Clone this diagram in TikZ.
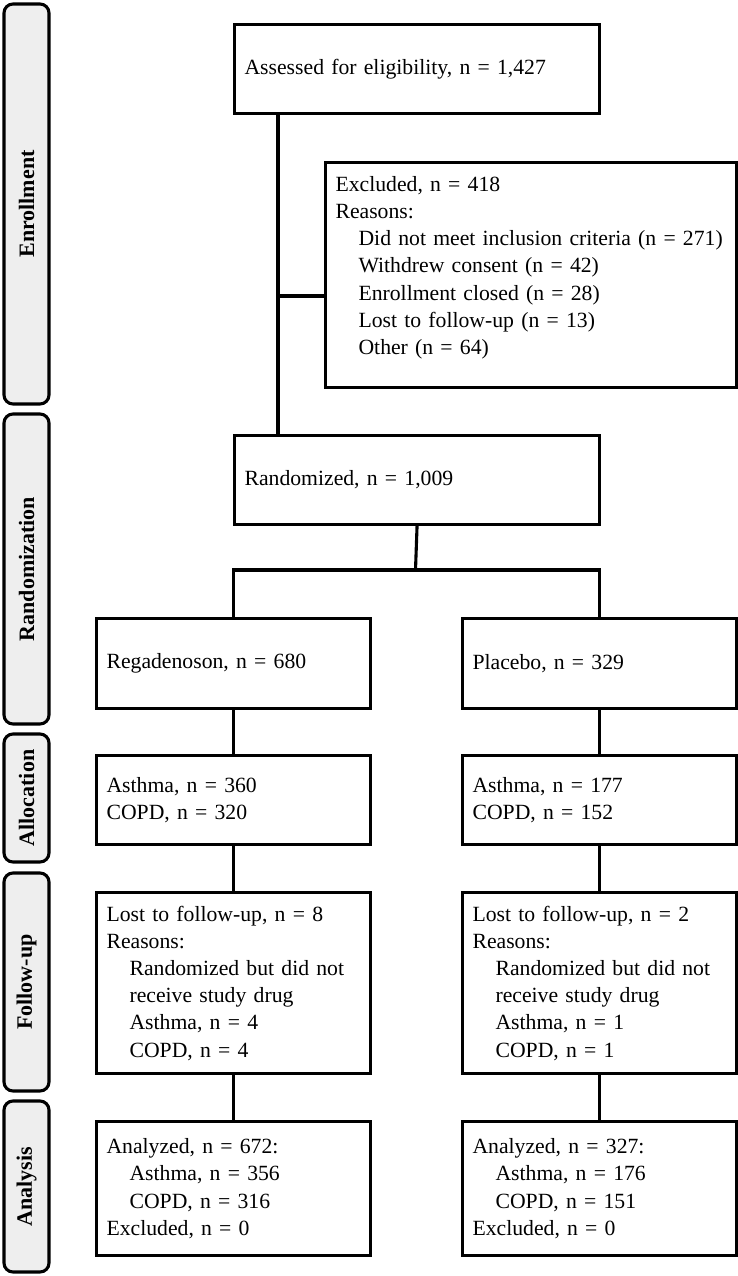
\documentclass[tikz,border=0pt]{standalone}
\usepackage{fontspec}
\setmainfont{Liberation Serif}
\definecolor{phasegray}{HTML}{EEEEEE}
\newcommand{\ind}{\hspace*{23pt}}
\begin{document}
\begin{tikzpicture}[x=1pt,y=-1pt,
  box/.style={draw, line width=3.1pt, rectangle, inner xsep=10pt, inner ysep=0pt,
    align=left, font=\fontsize{21.7}{27.2}\selectfont, anchor=north west},
  phase/.style={draw, line width=3.1pt, rounded corners=9pt, fill=phasegray,
    font=\bfseries\fontsize{22}{26}\selectfont, rotate=90, inner sep=0pt,
    minimum height=45pt},
  conn/.style={line width=3.1pt}]
\useasboundingbox (0,0) rectangle (737,1276);

% phase labels
\node[phase, minimum width=400pt] (pEnr) at (26.5,204) {Enrollment};
\node[phase, minimum width=310pt] (pRan) at (26.5,569) {Randomization};
\node[phase, minimum width=128pt] (pAll) at (26.5,798) {Allocation};
\node[phase, minimum width=218pt] (pFol) at (26.5,982) {Follow-up};
\node[phase, minimum width=171pt] (pAna) at (26.5,1186.5) {Analysis};

% boxes
\node[box, text width=345pt, minimum height=89pt] (assess) at (233,23)
  {Assessed for eligibility, n = 1,427};
\node[box, text width=391pt, minimum height=225pt] (excl) at (324,161)
  {Excluded, n = 418\\
   Reasons:\\
   \ind Did not meet inclusion criteria (n = 271)\\
   \ind Withdrew consent (n = 42)\\
   \ind Enrollment closed (n = 28)\\
   \ind Lost to follow-up (n = 13)\\
   \ind Other (n = 64)\\[-8pt]\mbox{}};
\node[box, text width=345pt, minimum height=89pt] (rand) at (233,434)
  {Randomized, n = 1,009};

\node[box, text width=254pt, minimum height=90pt] (reg) at (95,617)
  {Regadenoson, n = 680};
\node[box, text width=254pt, minimum height=90pt] (plac) at (461,617)
  {Placebo, n = 329};

\node[box, text width=254pt, minimum height=89pt] (allL) at (95,754)
  {Asthma, n = 360\\COPD, n = 320};
\node[box, text width=254pt, minimum height=89pt] (allR) at (461,754)
  {Asthma, n = 177\\COPD, n = 152};

\node[box, text width=254pt, minimum height=181pt] (folL) at (95,891)
  {Lost to follow-up, n = 8\\
   Reasons:\\
   \ind Randomized but did not\\
   \ind receive study drug\\
   \ind Asthma, n = 4\\
   \ind COPD, n = 4};
\node[box, text width=254pt, minimum height=181pt] (folR) at (461,891)
  {Lost to follow-up, n = 2\\
   Reasons:\\
   \ind Randomized but did not\\
   \ind receive study drug\\
   \ind Asthma, n = 1\\
   \ind COPD, n = 1};

\node[box, text width=254pt, minimum height=134pt] (anaL) at (95,1120)
  {Analyzed, n = 672:\\
   \ind Asthma, n = 356\\
   \ind COPD, n = 316\\
   Excluded, n = 0};
\node[box, text width=254pt, minimum height=134pt] (anaR) at (461,1120)
  {Analyzed, n = 327:\\
   \ind Asthma, n = 176\\
   \ind COPD, n = 151\\
   Excluded, n = 0};

% connectors
\coordinate (j1) at (278,296);
\coordinate (split) at (415.5,570);
\draw[conn] (assess.south -| j1) -- (rand.north -| j1);
\draw[conn] (j1) -- (excl.west |- j1);
\draw[conn] (rand.south) -- (split);
\draw[conn] (reg.north) -- (reg.north |- split) -- (plac.north |- split) -- (plac.north);
\draw[conn] (reg.south) -- (allL.north);
\draw[conn] (plac.south) -- (allR.north);
\draw[conn] (allL.south) -- (folL.north);
\draw[conn] (allR.south) -- (folR.north);
\draw[conn] (folL.south) -- (anaL.north);
\draw[conn] (folR.south) -- (anaR.north);
\end{tikzpicture}
\end{document}
